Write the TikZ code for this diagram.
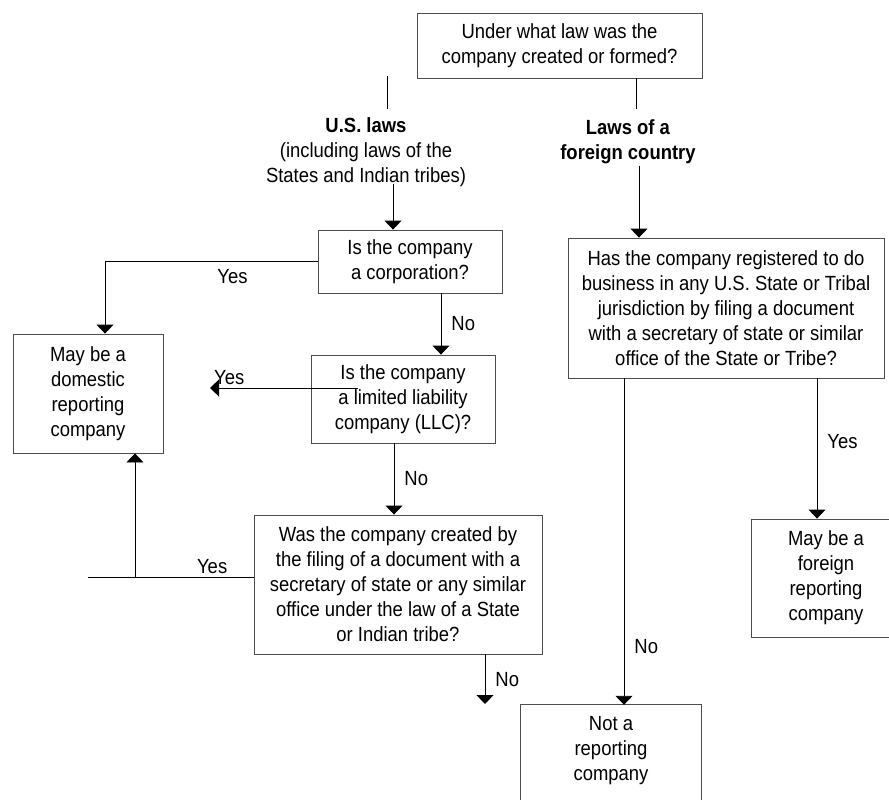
\documentclass[tikz,border=0pt]{standalone}
\usepackage{fontspec}
\setmainfont{Liberation Sans}[FakeStretch=0.9]
\usetikzlibrary{arrows.meta}
\tikzset{
    box/.style={rectangle,draw=black!70,line width=0.9pt,align=center,inner sep=0pt,font=\fontsize{20.5}{25}\selectfont},
    lbl/.style={align=center,inner sep=2pt,font=\fontsize{20.5}{25}\selectfont},
    frame/.style={-,draw=black!70,line width=0.9pt},
    edge/.style={-,draw=black,line width=0.9pt},
    dedge/.style={-{Triangle[width=17pt,length=9pt]},draw=black,line width=0.9pt},
}

\begin{document}
\begin{tikzpicture}[x=1pt,y=-1pt]
    \useasboundingbox (0,0) rectangle (889,800);
    % questions
    \node[box,minimum width=285pt,minimum height=65pt] (q0) at (559.5,45.5) {Under what law was the\\company created or formed?};
    \node[lbl] (uslaw) at (366,152) {\textbf{U.S. laws}\\(including laws of the\\States and Indian tribes)};
    \node[lbl] (forlaw) at (628,141.5) {\textbf{Laws of a}\\\textbf{foreign country}};
    \node[box,minimum width=184pt,minimum height=63pt] (corp) at (410,261.5) {Is the company\\a corporation?};
    \node[box,minimum width=184pt,minimum height=88pt] (llc) at (403,399) {Is the company\\a limited liability\\company (LLC)?};
    \node[box,minimum width=288pt,minimum height=139pt] (filed) at (398,584.5) {Was the company created by\\the filing of a document with a\\secretary of state or any similar\\office under the law of a State\\or Indian tribe?};
    \node[box,minimum width=316pt,minimum height=140pt] (forq) at (726,308) {Has the company registered to do\\business in any U.S. State or Tribal\\jurisdiction by filing a document\\with a secretary of state or similar\\office of the State or Tribe?};
    % outcomes
    \node[box,minimum width=150pt,minimum height=119pt] (domestic) at (88,393.5) {May be a\\domestic\\reporting\\company};
    \node[box,minimum width=150pt,minimum height=118pt] (forrep) at (826,578) {May be a\\foreign\\reporting\\company};
    \node[lbl,inner sep=0pt,minimum width=180pt,minimum height=92pt] (notrep) at (611,751) {Not a\\reporting\\company};
    \draw[frame] ([yshift=-20pt]notrep.south west) |- (notrep.north east) -- ([yshift=-20pt]notrep.south east);
    \coordinate (usstub) at (387,76);
    \coordinate (llcyes) at (210,388);
    \coordinate (filedyes) at (88,577);
    \coordinate (filedno) at (485,704);
    % connectors
    \draw[edge] (usstub) -- ([xshift=21pt,yshift=6pt]uslaw.north);
    \draw[edge] ([xshift=76.5pt]q0.south) -- ([xshift=8pt,yshift=8pt]forlaw.north);
    \draw[dedge] ([xshift=27pt,yshift=5pt]uslaw.south) -- ([xshift=27pt]uslaw.south |- corp.north);
    \draw[dedge] ([xshift=11pt]forlaw.south) -- ([xshift=11pt]forlaw.south |- forq.north);
    \draw[dedge] (corp.west) -| ([xshift=17pt]domestic.north) node[lbl,pos=0.2,below=5pt] {Yes};
    \draw[dedge] ([xshift=31pt]corp.south) -- ([xshift=31pt]corp.south |- llc.north) node[lbl,midway,right=8pt] {No};
    \draw[dedge] ([shift={(47pt,11pt)}]llc.west) -- (llcyes) node[lbl,pos=0.87,above=1pt] {Yes};
    \draw[dedge] ([xshift=-9pt]llc.south) -- ([xshift=-9pt]llc.south |- filed.north) node[lbl,midway,right=8pt] {No};
    \draw[edge] ([yshift=7.5pt]filed.west) -- (filedyes) node[lbl,pos=0.25,above=1pt] {Yes};
    \draw[dedge] ([xshift=47pt]domestic.south |- filedyes) -- ([xshift=47pt]domestic.south);
    \draw[dedge] ([xshift=87pt]filed.south) -- (filedno) node[lbl,midway,right=8pt] {No};
    \draw[dedge] ([xshift=91pt]forq.south) -- ([xshift=91pt]forq.south |- forrep.north) node[lbl,pos=0.45,right=8pt] {Yes};
    \draw[dedge] ([xshift=-102pt]forq.south) -- ([xshift=-102pt]forq.south |- notrep.north) node[lbl,pos=0.82,right=8pt] {No};
\end{tikzpicture}
\end{document}
